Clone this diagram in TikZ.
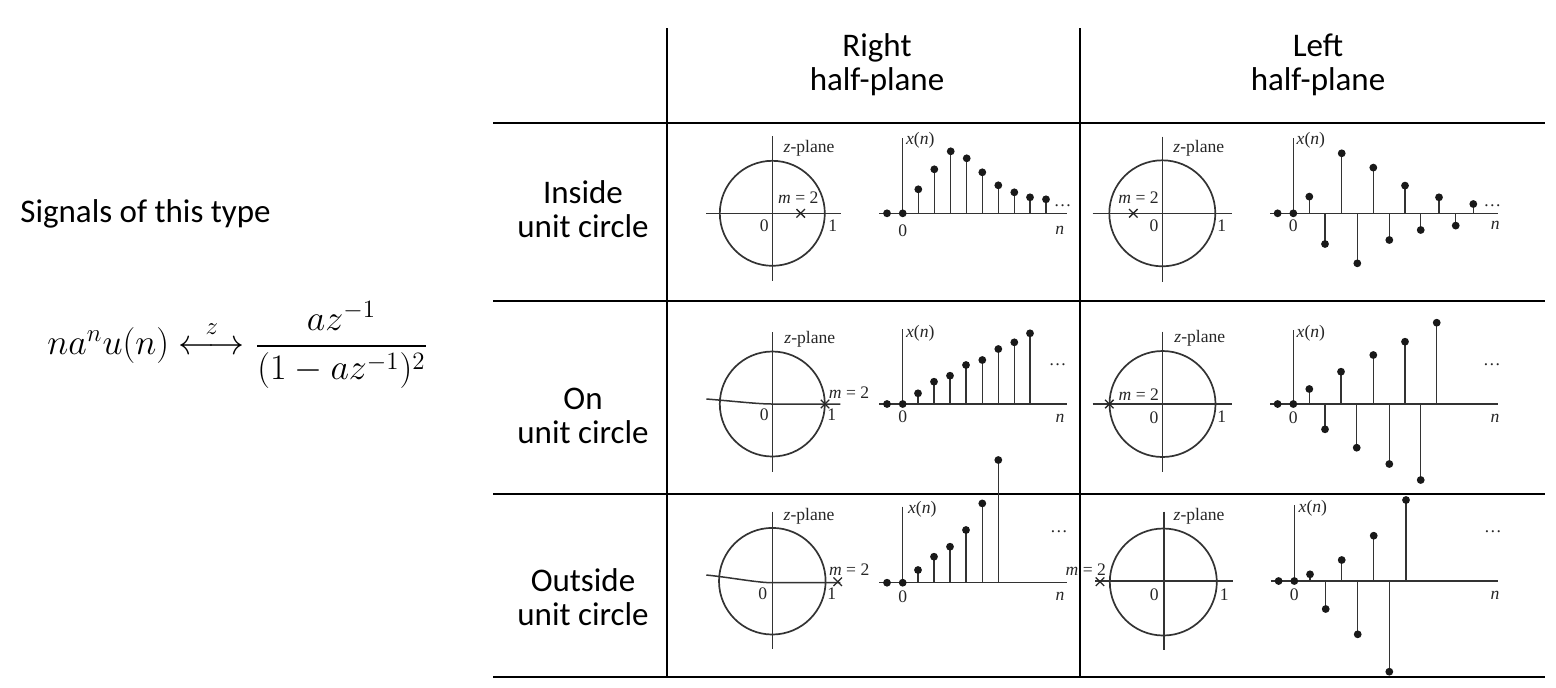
\documentclass[tikz,border=0pt]{standalone}
\usepackage{fontspec}
\usepackage{amsmath}
\usepackage{graphicx}
\setmainfont{Carlito}
\newfontfamily\tms{Liberation Serif}
\usetikzlibrary{shapes.misc}
\begin{document}
\begin{tikzpicture}[x=0.5pt,y=-0.5pt,
  grid/.style={line width=1.4pt},
  ax/.style={line width=0.75pt, draw=black!80},
  ring/.style={line width=0.85pt, draw=black!80},
  lab/.style={font=\tms\fontsize{8.8}{9}\selectfont, inner sep=0pt, text=black!85},
  hdr/.style={font=\fontsize{16.5}{17}\selectfont, align=center, inner sep=0pt},
  xmark/.style={draw=black!85, cross out, minimum size=3.6pt, inner sep=0pt, line width=0.65pt},
  sdot/.style={fill=black!90}
]
\useasboundingbox (0,0) rectangle (1556,687);

% ---------- table grid ----------
\coordinate (v1t) at (667,28);  \coordinate (v1b) at (667,677);
\coordinate (v2t) at (1080,28); \coordinate (v2b) at (1080,677);
\coordinate (h1l) at (493,123); \coordinate (h1r) at (1545,123);
\coordinate (h2l) at (493,301); \coordinate (h2r) at (1545,301);
\coordinate (h3l) at (493,494); \coordinate (h3r) at (1545,494);
\coordinate (h4l) at (493,677); \coordinate (h4r) at (1545,677);
\draw[grid] (v1t) -- (v1b);
\draw[grid] (v2t) -- (v2b);
\draw[grid] (h1l) -- (h1r);
\draw[grid] (h2l) -- (h2r);
\draw[grid] (h3l) -- (h3r);
\draw[grid] (h4l) -- (h4r);

% ---------- headers ----------
\node[hdr] (hR) at (877,65) {Right\\half-plane};
\node[hdr] (hL) at (1318,65) {Left\\half-plane};
\node[hdr] (rIn) at (583,209) {Inside\\unit circle};
\node[hdr] (rOn) at (583,416) {On\\unit circle};
\node[hdr] (rOut) at (583,597) {Outside\\unit circle};

% ---------- left side ----------
\node[hdr, anchor=west] (sig) at (20,214) {Signals of this type};
\node[anchor=west, inner sep=0pt, font=\fontsize{17.28}{20}\selectfont] (eq) at (47,345)
  {\scalebox{1.04}{$na^nu(n) \overset{z}{\longleftrightarrow} \dfrac{az^{-1}}{(1-az^{-1})^2}$}};

% ================= Row 1: inside =================
\begin{scope}[shift={(772.3,213.3)}]
  \draw[ax] (-66,0) -- (69,0);
  \draw[ax] (0,-77) -- (0,68);
  \draw[ring] (0,0) circle[radius=52.5];
  \node[lab, anchor=west] (zp1) at (11,-65) {\textit{z}-plane};
  \node[lab] (m1) at (26,-15.6) {\textit{m} = 2};
  \node[xmark] (x1) at (28.4,0) {};
  \node[lab] (o1) at (-8,12) {0};
  \node[lab] (u1) at (60.5,12) {1};
\end{scope}
\begin{scope}[shift={(902.7,213.3)}]
  \draw[ax] (-23.4,0) -- (164,0);
  \draw[ax] (0,-75) -- (0,0);
  \foreach \dx/\yy in {15.6/-24,31.6/-44,48/-62,64/-55,79.6/-41,95.6/-28,111.6/-21,127.3/-16,143.3/-14}
    {\draw[ax] (\dx,0) -- (\dx,\yy); \fill[sdot] (\dx,\yy) circle[radius=3.9];}
  \fill[sdot] (-15.7,0) circle[radius=3.9];
  \fill[sdot] (0,0) circle[radius=3.9];
  \node[lab, anchor=west] (xn1) at (3,-73) {\textit{x}(\textit{n})};
  \node[lab] (z1) at (0,17) {0};
  \node[lab] (n1) at (157,17) {\textit{n}};
  \node[lab] (d1) at (160,-8) {\ldots};
\end{scope}
\begin{scope}[shift={(1162.3,213.3)}]
  \draw[ax] (-69.6,0) -- (69.4,0);
  \draw[ax] (0,-76.6) -- (0,68.4);
  \draw[ring] (0,0) circle[radius=53];
  \node[lab, anchor=west] (zp2) at (10.7,-65) {\textit{z}-plane};
  \node[lab] (m2) at (-23.8,-15.6) {\textit{m} = 2};
  \node[xmark] (x2) at (-29,0) {};
  \node[lab] (o2) at (-8.3,12) {0};
  \node[lab] (u2) at (59.4,12) {1};
\end{scope}
\begin{scope}[shift={(1293.3,213.3)}]
  \draw[ax] (-23.3,0) -- (205,0);
  \draw[ax] (0,-75) -- (0,0);
  \foreach \dx/\yy in {16/-16.7,31.7/30.7,48.4/-60,64/50,80/-45.7,96/26.7,111.7/-27.7,127.4/16.7,145.7/-16,162.4/12.3,180/-9.3}
    {\draw[ax] (\dx,0) -- (\dx,\yy); \fill[sdot] (\dx,\yy) circle[radius=3.9];}
  \fill[sdot] (-15.7,0) circle[radius=3.9];
  \fill[sdot] (0,0) circle[radius=3.9];
  \node[lab, anchor=west] (xn2) at (3,-73) {\textit{x}(\textit{n})};
  \node[lab] (z2) at (0,12) {0};
  \node[lab] (n2) at (202,12) {\textit{n}};
  \node[lab] (d2) at (199,-8) {\ldots};
\end{scope}

% ================= Row 2: on =================
\begin{scope}[shift={(772.3,404)}]
  \draw[ax] (-66,-5) .. controls (-40,-3) and (-15,0) .. (0,0) -- (68,0);
  \draw[ax] (0,-71.7) -- (0,67.7);
  \draw[ring] (0,0) circle[radius=52.5];
  \node[lab, anchor=west] (zp3) at (11.7,-65) {\textit{z}-plane};
  \node[lab] (m3) at (76.7,-11.3) {\textit{m} = 2};
  \node[xmark] (x3) at (52.7,0) {};
  \node[lab] (o3) at (-8,11) {0};
  \node[lab] (u3) at (59.4,11) {1};
\end{scope}
\begin{scope}[shift={(902.7,404)}]
  \draw[ax] (-23.4,0) -- (164,0);
  \draw[ax] (0,-74.7) -- (0,0);
  \foreach \dx/\yy in {15.3/-10.7,31.3/-22.3,47.3/-28.3,63.3/-39,79.6/-44,95.6/-55,111.6/-61.7,127.3/-70.7}
    {\draw[ax] (\dx,0) -- (\dx,\yy); \fill[sdot] (\dx,\yy) circle[radius=3.9];}
  \fill[sdot] (-15.7,0) circle[radius=3.9];
  \fill[sdot] (0,0) circle[radius=3.9];
  \node[lab, anchor=west] (xn3) at (3,-71) {\textit{x}(\textit{n})};
  \node[lab] (z3) at (0,12.7) {0};
  \node[lab] (n3) at (157.3,14.3) {\textit{n}};
  \node[lab] (d3) at (155,-39) {\ldots};
\end{scope}
\begin{scope}[shift={(1162.5,404)}]
  \draw[ax] (-69.8,0) -- (69.2,0);
  \draw[ax] (0,-72.3) -- (0,67.7);
  \draw[ring] (0,0) circle[radius=53];
  \node[lab, anchor=west] (zp4) at (11.5,-65.7) {\textit{z}-plane};
  \node[lab] (m4) at (-23.7,-9) {\textit{m} = 2};
  \node[xmark] (x4) at (-53.2,0) {};
  \node[lab] (o4) at (-8.5,13.3) {0};
  \node[lab] (u4) at (59.2,13) {1};
\end{scope}
\begin{scope}[shift={(1293.3,404)}]
  \draw[ax] (-23.3,0) -- (205,0);
  \draw[ax] (0,-74) -- (0,0);
  \foreach \dx/\yy in {16/-15,31.7/25.3,47.7/-32.3,63.4/43.7,80/-49,96/60,111.7/-62.3,127.4/76,143.4/-81.3}
    {\draw[ax] (\dx,0) -- (\dx,\yy); \fill[sdot] (\dx,\yy) circle[radius=3.9];}
  \fill[sdot] (-15.7,0) circle[radius=3.9];
  \fill[sdot] (0,0) circle[radius=3.9];
  \node[lab, anchor=west] (xn4) at (3,-71) {\textit{x}(\textit{n})};
  \node[lab] (z4) at (0,13.3) {0};
  \node[lab] (n4) at (201.7,14.3) {\textit{n}};
  \node[lab] (d4) at (198.7,-39) {\ldots};
\end{scope}

% ================= Row 3: outside =================
\begin{scope}[shift={(772.3,582.7)}]
  \draw[ax] (-66,-7.7) .. controls (-40,-5) and (-15,0) .. (0,0) -- (68,0);
  \draw[ax] (0,-71) -- (0,66.6);
  \draw[ring] (0,-1.5) circle[radius=53.3];
  \node[lab, anchor=west] (zp5) at (11,-66) {\textit{z}-plane};
  \node[lab] (m5) at (76.9,-12.7) {\textit{m} = 2};
  \node[xmark] (x5) at (65.4,-1) {};
  \node[lab] (o5) at (-9.6,10.6) {0};
  \node[lab] (u5) at (59.4,10.6) {1};
\end{scope}
\begin{scope}[shift={(902.7,582.7)}]
  \draw[ax] (-23.4,0) -- (164,0);
  \draw[ax] (0,-76) -- (0,0);
  \foreach \dx/\yy in {15.3/-12.7,31.3/-26,47.3/-36,63.3/-52.7,79.6/-79.3,95.6/-122.7}
    {\draw[ax] (\dx,0) -- (\dx,\yy); \fill[sdot] (\dx,\yy) circle[radius=3.9];}
  \fill[sdot] (-15.7,0) circle[radius=3.9];
  \fill[sdot] (0,0) circle[radius=3.9];
  \node[lab, anchor=west] (xn5) at (5,-73) {\textit{x}(\textit{n})};
  \node[lab] (z5) at (0,14) {0};
  \node[lab] (n5) at (157.3,14) {\textit{n}};
  \node[lab] (d5) at (156.3,-51) {\ldots};
\end{scope}
\begin{scope}[shift={(1164,581)}]
  \draw[ax] (-69,0) -- (69.3,0);
  \draw[ax] (0,-69.3) -- (0,69);
  \draw[ring] (-0.7,1) circle[radius=53.5];
  \node[lab, anchor=west] (zp6) at (9.3,-65) {\textit{z}-plane};
  \node[lab] (m6) at (-78.2,-11) {\textit{m} = 2};
  \node[xmark] (x6) at (-64,0.7) {};
  \node[lab] (o6) at (-9.7,14) {0};
  \node[lab] (u6) at (60.3,14) {1};
\end{scope}
\begin{scope}[shift={(1294.3,581)}]
  \draw[ax] (-23.6,0) -- (204,0);
  \draw[ax] (0,-76) -- (0,0);
  \foreach \dx/\yy in {15.7/-6.7,31.4/28,47.4/-21,63.4/53.3,79.4/-45.3,95/90.7,111.7/-81}
    {\draw[ax] (\dx,0) -- (\dx,\yy); \fill[sdot] (\dx,\yy) circle[radius=3.9];}
  \fill[sdot] (-15.7,0) circle[radius=3.9];
  \fill[sdot] (0,0) circle[radius=3.9];
  \node[lab, anchor=west] (xn6) at (4,-73) {\textit{x}(\textit{n})};
  \node[lab] (z6) at (0,14) {0};
  \node[lab] (n6) at (200.7,14) {\textit{n}};
  \node[lab] (d6) at (198.7,-49.3) {\ldots};
\end{scope}
\end{tikzpicture}
\end{document}
